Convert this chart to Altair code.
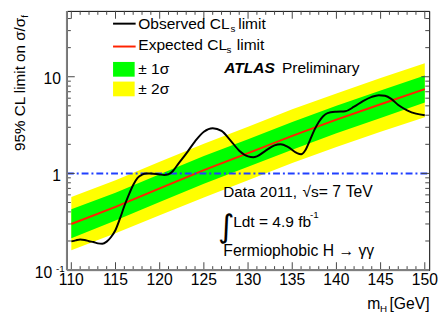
import altair as alt
import pandas as pd

FONT = "Liberation Sans"
FS = 15.5
FS2 = 16

# ---------------- data ----------------
exp_mass = [110, 115, 120, 125, 130, 135, 140, 145, 150]
exp_med = [0.30, 0.45, 0.70, 1.08, 1.62, 2.45, 3.6, 5.2, 7.45]
exp_p1s = [0.425, 0.63, 0.98, 1.51, 2.25, 3.4, 5.0, 7.2, 10.3]
exp_m1s = [0.214, 0.325, 0.505, 0.78, 1.17, 1.76, 2.6, 3.75, 5.4]
exp_p2s = [0.57, 0.85, 1.32, 2.03, 3.04, 4.6, 6.7, 9.7, 13.8]
exp_m2s = [0.16, 0.24, 0.37, 0.565, 0.85, 1.28, 1.88, 2.7, 3.8]

obs_mass = [110, 110.5, 111, 111.5, 112, 112.5, 113, 113.5, 114, 114.5, 115, 115.5,
            116, 116.5, 117, 117.5, 118, 118.5, 119, 120, 120.5, 121, 121.5, 122,
            123, 124, 125, 126, 127, 128, 129, 130, 130.6, 131, 132, 133, 133.7,
            134.5, 135.5, 136, 136.5, 137, 137.5, 138, 138.5, 139, 140, 141, 142,
            143, 144, 144.8, 145.5, 146.2, 147, 148, 149, 150]
obs_lim = [0.198, 0.203, 0.207, 0.205, 0.199, 0.195, 0.189, 0.187, 0.197, 0.22, 0.26, 0.34,
           0.46, 0.60, 0.76, 0.90, 0.97, 1.0, 1.0, 0.975, 0.965, 0.98, 1.06, 1.22,
           1.6, 2.15, 2.7, 2.94, 2.75, 2.2, 1.72, 1.5, 1.47, 1.5, 1.72, 1.95, 2.0,
           1.88, 1.63, 1.58, 1.75, 2.2, 2.8, 3.4, 3.9, 4.2, 4.35, 4.4, 4.9,
           5.6, 6.2, 6.45, 6.35, 5.9, 5.1, 4.5, 4.15, 4.0]

x_major = [110, 115, 120, 125, 130, 135, 140, 145, 150]
x_minor = [m for m in range(110, 151) if m % 5 != 0]
y_major = [0.1, 1, 10]
y_minor = [0.2, 0.3, 0.4, 0.5, 0.6, 0.7, 0.8, 0.9, 2, 3, 4, 5, 6, 7, 8, 9, 20, 30, 40]
y_labels = [1, 10]

# ---------------- layout ----------------
W, H = 369, 264
X0, Y0 = 68, 8


def px(x):
    return x - X0


def py(y):
    return y - Y0


xscale = alt.Scale(domain=[109.5, 150.5], nice=False, zero=False)
yscale = alt.Scale(type="log", domain=[0.1, 48], nice=False)

exp_df = pd.DataFrame({"m": exp_mass, "med": exp_med, "p1": exp_p1s, "m1": exp_m1s,
                       "p2": exp_p2s, "m2": exp_m2s})
obs_df = pd.DataFrame({"m": obs_mass, "lim": obs_lim})
dummy = pd.DataFrame({"a": [0]})

base = alt.Chart(exp_df)
yellow = base.mark_area(color="#ffff00", opacity=1).encode(
    x=alt.X("m:Q", scale=xscale, axis=None),
    y=alt.Y("m2:Q", scale=yscale, axis=None),
    y2="p2:Q")
green = base.mark_area(color="#00ff00", opacity=1).encode(
    x=alt.X("m:Q", scale=xscale, axis=None),
    y=alt.Y("m1:Q", scale=yscale, axis=None),
    y2="p1:Q")
red = base.mark_line(color="#ff2200", strokeWidth=2).encode(
    x=alt.X("m:Q", scale=xscale, axis=None),
    y=alt.Y("med:Q", scale=yscale, axis=None))

blue = alt.Chart(pd.DataFrame({"v": [1]})).mark_rule(
    color="#2040ff", strokeWidth=2, strokeDash=[7, 3, 2, 3]).encode(
    y=alt.Y("v:Q", scale=yscale, axis=None), x=alt.value(0), x2=alt.value(W))

obs = alt.Chart(obs_df).mark_line(color="black", strokeWidth=2, interpolate="monotone").encode(
    x=alt.X("m:Q", scale=xscale, axis=None),
    y=alt.Y("lim:Q", scale=yscale, axis=None))

TICK = "#444444"


def xticks(vals, length):
    d = alt.Chart(pd.DataFrame({"v": vals}))
    bot = d.mark_rule(color=TICK, strokeWidth=1).encode(
        x=alt.X("v:Q", scale=xscale, axis=None), y=alt.value(H), y2=alt.value(H - length))
    top = d.mark_rule(color=TICK, strokeWidth=1).encode(
        x=alt.X("v:Q", scale=xscale, axis=None), y=alt.value(0), y2=alt.value(length))
    return [bot, top]


def yticks(vals, length):
    d = alt.Chart(pd.DataFrame({"v": vals}))
    left = d.mark_rule(color=TICK, strokeWidth=1).encode(
        y=alt.Y("v:Q", scale=yscale, axis=None), x=alt.value(0), x2=alt.value(length))
    right = d.mark_rule(color=TICK, strokeWidth=1).encode(
        y=alt.Y("v:Q", scale=yscale, axis=None), x=alt.value(W), x2=alt.value(W - length))
    return [left, right]


ticks = xticks(x_major, 8) + xticks(x_minor, 4) + yticks(y_major, 8) + yticks(y_minor, 4)

frame_left = alt.Chart(dummy).mark_rule(color="#808080", strokeWidth=2).encode(
    x=alt.value(0), y=alt.value(0), y2=alt.value(H))
frame_bottom = alt.Chart(dummy).mark_rule(color="#808080", strokeWidth=2).encode(
    x=alt.value(0), x2=alt.value(W), y=alt.value(H))

xlab = alt.Chart(pd.DataFrame({"v": x_major})).mark_text(
    align="center", baseline="top", font=FONT, fontSize=FS2, color="black").encode(
    x=alt.X("v:Q", scale=xscale, axis=None), y=alt.value(H + 2), text="v:Q")

ylab = alt.Chart(pd.DataFrame({"v": y_labels})).mark_text(
    align="right", baseline="middle", font=FONT, fontSize=FS2, dy=2.5, color="black").encode(
    y=alt.Y("v:Q", scale=yscale, axis=None), x=alt.value(-6), text="v:Q")
ylab01 = alt.Chart(pd.DataFrame({"v": [0.1]})).mark_text(
    align="right", baseline="middle", font=FONT, fontSize=FS2, dy=3.5, text="10",
    color="black").encode(
    y=alt.Y("v:Q", scale=yscale, axis=None), x=alt.value(-15))
ylab01s = alt.Chart(pd.DataFrame({"v": [0.1]})).mark_text(
    align="left", baseline="middle", font=FONT, fontSize=10, dy=-1.5, text="-1",
    color="black").encode(
    y=alt.Y("v:Q", scale=yscale, axis=None), x=alt.value(-11))


def label(text, x, y, size=FS, align="left", angle=0, weight="normal", style="normal",
          font=FONT):
    kw = dict(text=text, align=align, baseline="alphabetic", font=font, fontSize=size,
              fontWeight=weight, fontStyle=style, color="black")
    if angle:
        kw["angle"] = angle
    return alt.Chart(dummy).mark_text(**kw).encode(x=alt.value(px(x)), y=alt.value(py(y)))


def lrule(color, x1, x2, y):
    return alt.Chart(dummy).mark_rule(color=color, strokeWidth=2).encode(
        x=alt.value(px(x1)), x2=alt.value(px(x2)), y=alt.value(py(y)))


def lrect(color, x1, x2, y1, y2):
    return alt.Chart(dummy).mark_rect(color=color, opacity=1).encode(
        x=alt.value(px(x1)), x2=alt.value(px(x2)), y=alt.value(py(y1)), y2=alt.value(py(y2)))


texts = [
    # legend
    lrule("black", 115, 138, 21),
    label("Observed CL", 140.7, 26.7, size=15.8),
    label("s", 234.5, 30, size=10),
    label("limit", 242.5, 26.7, size=15.8),
    lrule("#ff2200", 115, 138, 44.3),
    label("Expected CL", 140.7, 47.7, size=15.8),
    label("s", 230.5, 51, size=10),
    label("limit", 241, 47.7, size=15.8),
    lrect("#00ff00", 115, 137, 60, 75),
    label("\u00b1 1\u03c3", 140.7, 72, size=15.8),
    lrect("#ffff00", 115, 137, 80, 95),
    label("\u00b1 2\u03c3", 140.7, 93, size=15.8),
    label("ATLAS", 228.3, 71.7, size=15.8, weight="bold", style="italic"),
    label("Preliminary", 287, 71.7, size=15.8),
    # bottom-right annotations
    label("Data 2011,", 227.3, 198, size=15.6),
    label("\u221as", 308, 198, size=15.8),
    label("= 7", 324.5, 198, size=FS2),
    label("TeV", 352, 198, size=FS2),
    label("\u222b", 222, 238, size=32, font="DejaVu Sans"),
    label("Ldt = 4.9 fb", 237.3, 228, size=15.8),
    label("-1", 315.5, 218.5, size=10),
    label("Fermiophobic H \u2192 \u03b3\u03b3", 227.3, 258, size=FS2),
    # axis titles
    label("m", 374, 311.3, size=FS2),
    label("H", 387, 314.5, size=10),
    label("[GeV]", 396.5, 311.3, size=FS2),
    label("95% CL limit on \u03c3/\u03c3", 25, 15, align="right", angle=270, size=FS),
    label("f", 28.5, 15, size=10, angle=270),
]

chart = alt.layer(
    yellow, green, red, blue, obs, *ticks, frame_left, frame_bottom,
    xlab, ylab, ylab01, ylab01s, *texts
).properties(
    width=W, height=H,
    autosize=alt.AutoSizeParams(type="none"),
    padding={"left": 60, "top": 0, "right": 11, "bottom": 54},
).configure_view(stroke="black", strokeWidth=1)

chart.save("out.html", embed_options={"renderer": "svg", "actions": False})
